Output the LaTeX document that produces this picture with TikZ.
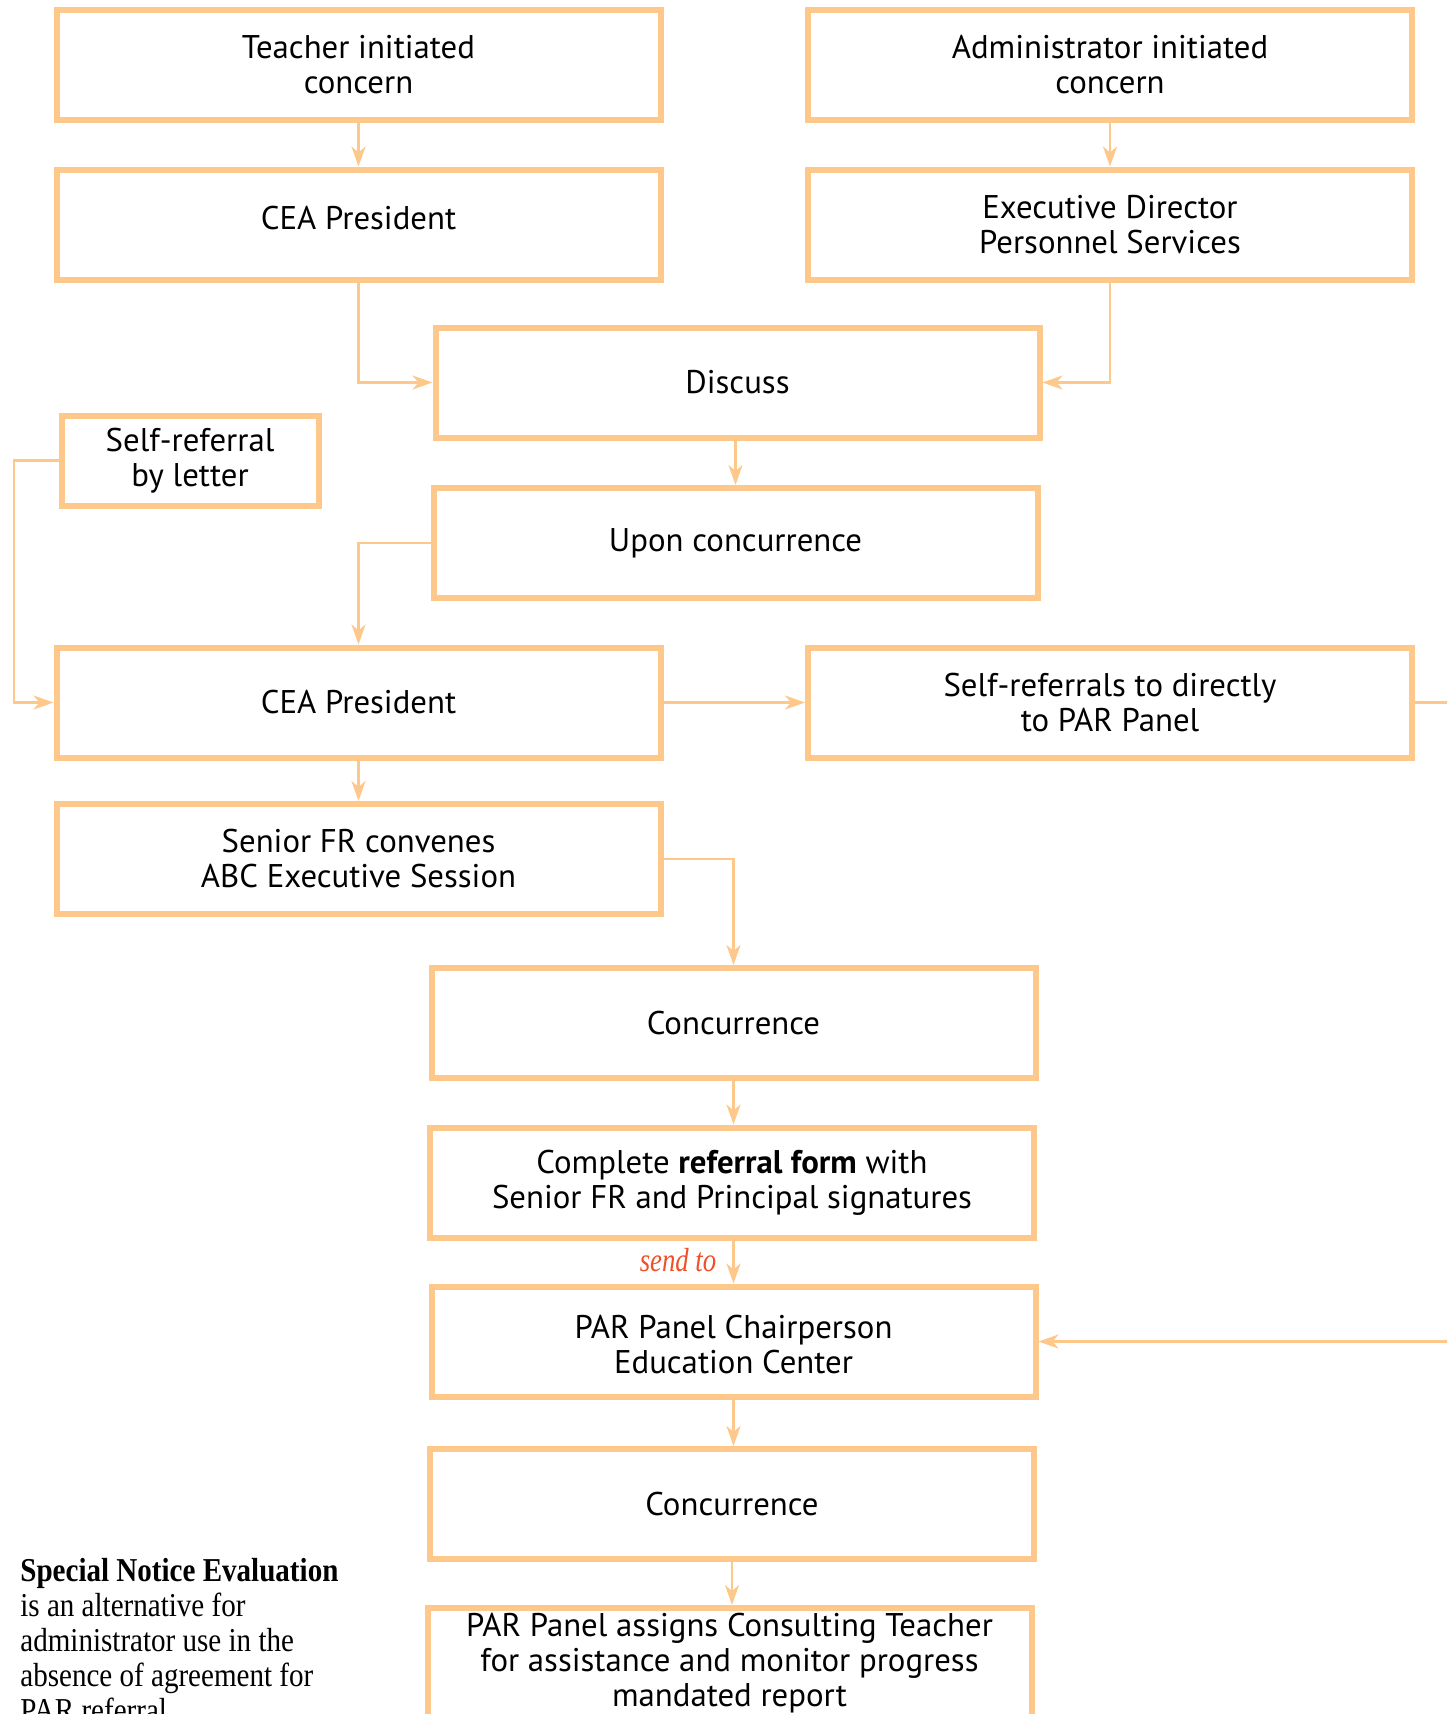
\documentclass[tikz,border=0pt]{standalone}
\usepackage{fontspec}
\setmainfont{Liberation Serif}
\newfontfamily\boxfont{PT Sans}
\newfontfamily\notefont[FakeStretch=0.87]{Liberation Serif}
\newfontfamily\sendfont[FakeStretch=0.8]{Liberation Serif}
\usetikzlibrary{arrows.meta}
\definecolor{boxorange}{RGB}{254,200,138}
\definecolor{sendred}{RGB}{240,80,40}
\begin{document}
\begin{tikzpicture}[x=0.5pt,y=-0.5pt,
  box/.style={draw=boxorange, line width=3pt, minimum width=302pt, minimum height=55pt,
    align=center, inner sep=0pt, font=\boxfont\fontsize{16.4}{17.5}\selectfont},
  smallbox/.style={box, minimum width=128.5pt, minimum height=45pt},
  conn/.style={draw=boxorange, line width=1.4pt, -{Stealth[length=10pt,width=7pt,inset=3pt]}},
  plain/.style={draw=boxorange, line width=1.4pt}]
\useasboundingbox (0,0) rectangle (1447,1714);
\clip (0,0) rectangle (1447,1714);

\node[box] (teacher) at (358.5,64.5) {Teacher initiated\\concern};
\node[box] (admin) at (1110,64.5) {Administrator initiated\\concern};
\node[box] (cea1) at (358.5,224.5) {\raisebox{3pt}[\height][\depth]{CEA President}};
\node[box] (exec) at (1110,224.5) {Executive Director\\Personnel Services};
\node[box] (discuss) at (737.5,382.5) {Discuss};
\node[smallbox] (selfref) at (190,460.5) {Self-referral\\by letter};
\node[box] (upon) at (735.5,543) {Upon concurrence};
\node[box] (cea2) at (358.5,702.5) {CEA President};
\node[box] (selfpar) at (1110,702.5) {Self-referrals to directly\\to PAR Panel};
\node[box] (senior) at (358.5,859) {Senior FR convenes\\ABC Executive Session};
\node[box] (conc1) at (733.5,1023) {Concurrence};
\node[box] (complete) at (732,1182.5) {Complete \textbf{referral form} with\\Senior FR and Principal signatures};
\node[box] (chair) at (733.5,1341.5) {\raisebox{-3.8pt}[\height][\depth]{\begin{tabular}{@{}c@{}}PAR Panel Chairperson\\Education Center\end{tabular}}};
\node[box] (conc2) at (732,1504) {Concurrence};
\node[box] (assigns) at (729.5,1663) {PAR Panel assigns Consulting Teacher\\for assistance and monitor progress\\mandated report};

\node[text=sendred, inner sep=0pt, font=\sendfont\itshape\fontsize{16.7}{17.5}\selectfont] (sendto) at (678,1260) {send to};

\node[anchor=north west, align=left, inner sep=0pt, font=\notefont\fontsize{16.7}{17.5}\selectfont] (note) at (20,1558)
  {\textbf{Special Notice Evaluation}\\is an alternative for\\administrator use in the\\absence of agreement for\\PAR referral};

\coordinate (lft) at (14,0);
\coordinate (rt1) at (1480,702.5);
\coordinate (rt2) at (1480,1341.5);

\draw[conn] (teacher.south) -- (cea1.north);
\draw[conn] (admin.south) -- (exec.north);
\draw[conn] (cea1.south) |- (discuss.west);
\draw[conn] (exec.south) |- (discuss.east);
\draw[conn] (discuss.south -| upon) -- (upon.north);
\draw[conn] (upon.west) -| (cea2.north);
\draw[conn] (selfref.west) -- (selfref.west -| lft) |- (cea2.west);
\draw[conn] (cea2.east) -- (selfpar.west);
\draw[conn] (cea2.south) -- (senior.north);
\draw[conn] (senior.east) -| (conc1.north);
\draw[conn] (conc1.south) -- (conc1.south |- complete.north);
\draw[conn] (complete.south -| conc1) -- (conc1 |- chair.north);
\draw[conn] (chair.south) -- (chair.south |- conc2.north);
\draw[conn] (conc2.south) -- (conc2.south |- assigns.north);
\draw[conn] (selfpar.east) -- (rt1) -- (rt2) -- (chair.east);
\end{tikzpicture}
\end{document}
